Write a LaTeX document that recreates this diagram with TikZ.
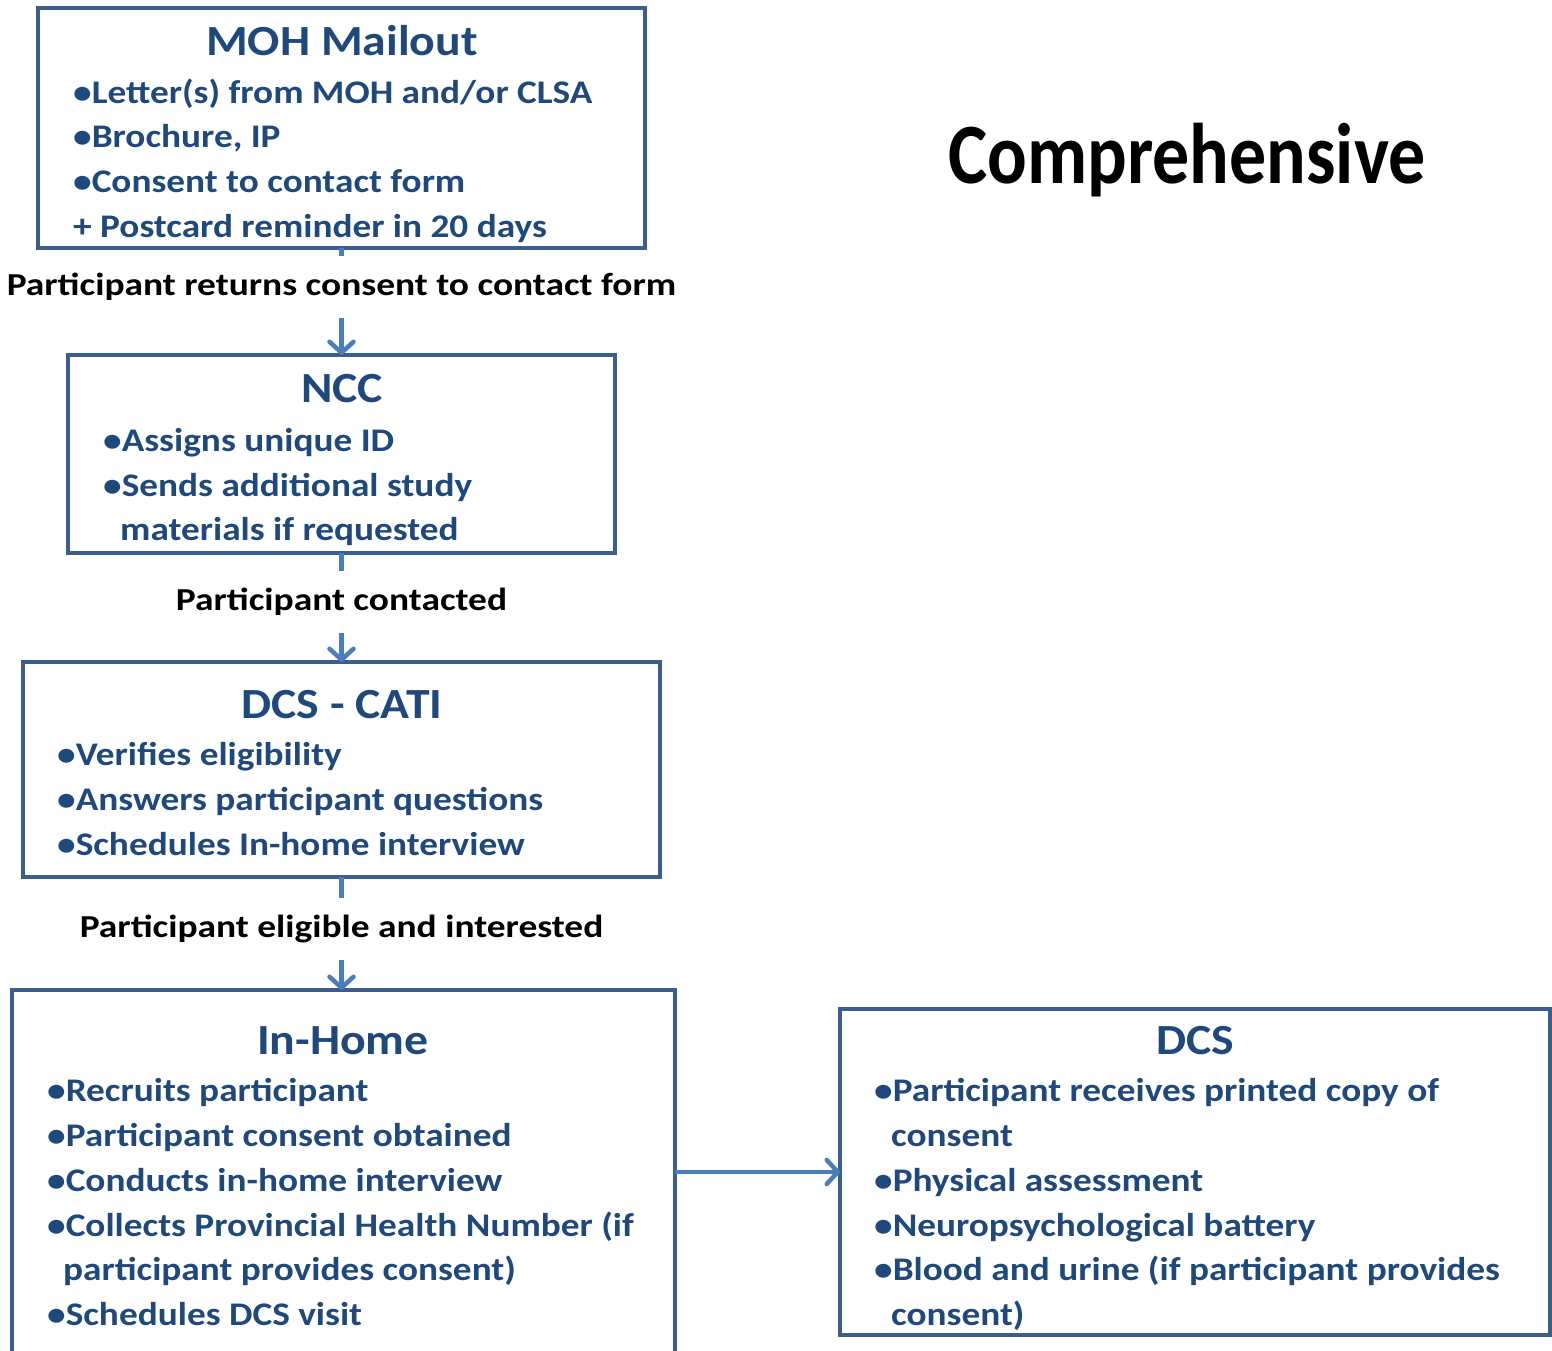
\documentclass[tikz,border=0pt]{standalone}
\usepackage{fontspec}
\setmainfont{Carlito}
\newfontfamily\itemfont[FakeStretch=1.13]{Carlito}
\newfontfamily\titlefont[FakeStretch=1.11]{Carlito}
\newfontfamily\labfont[FakeStretch=1.17]{Carlito}
\newfontfamily\compfont[FakeStretch=0.86]{Carlito}
\usetikzlibrary{arrows.meta}
\definecolor{boxblue}{HTML}{3B5E8C}
\definecolor{txtblue}{HTML}{1F497D}
\definecolor{arrblue}{HTML}{4A7EBB}
\tikzset{
  box/.style={draw=boxblue, line width=4.5pt, anchor=north west, inner sep=0pt, outer sep=0pt},
  boxtitle/.style={font=\titlefont\bfseries\fontsize{43}{50}\selectfont, text=txtblue, anchor=base, inner sep=0pt},
  item/.style={font=\itemfont\bfseries\fontsize{33}{40}\selectfont, text=txtblue, anchor=base west, inner sep=0pt},
  lab/.style={font=\labfont\bfseries\fontsize{32}{38}\selectfont, text=black, inner xsep=2pt, inner ysep=17pt},
  conn/.style={draw=arrblue, line width=4.5pt},
  arr/.style={conn, -{Straight Barb[length=11pt,width=24pt,line width=4.5pt,round]}}
}
\begin{document}
\begin{tikzpicture}[x=1pt,y=-1pt]
\clip (0,0) rectangle (1552,1350);
% boxes
\node[box, minimum width=607pt, minimum height=240pt] (moh) at (38,8) {};
\node[box, minimum width=547pt, minimum height=198pt] (ncc) at (68,355) {};
\node[box, minimum width=637pt, minimum height=215pt] (cati) at (23,662) {};
\node[box, minimum width=663pt, minimum height=364pt] (inhome) at (12,990) {};
\node[box, minimum width=710pt, minimum height=326pt] (dcs) at (840,1009) {};
% MOH
\node[boxtitle] (t1) at (342,55) {MOH Mailout};
\node[item] (m1) at (73,103) {•Letter(s) from MOH and/or CLSA};
\node[item] (m2) at (73,147) {•Brochure, IP};
\node[item] (m3) at (73,192) {•Consent to contact form};
\node[item] (m4) at (73,237) {+ Postcard reminder in 20 days};
% NCC
\node[boxtitle] (t2) at (342,402) {NCC};
\node[item] (n1) at (103,451) {•Assigns unique ID};
\node[item] (n2) at (103,496) {•Sends additional study};
\node[item] (n3) at (120,540) {materials if requested};
% DCS-CATI
\node[boxtitle] (t3) at (342,718) {DCS - CATI};
\node[item] (c1) at (57,765) {•Verifies eligibility};
\node[item] (c2) at (57,810) {•Answers participant questions};
\node[item] (c3) at (57,855) {•Schedules In-home interview};
% In-Home
\node[boxtitle] (t4) at (343,1054) {In-Home};
\node[item] (h1) at (47,1101) {•Recruits participant};
\node[item] (h2) at (47,1146) {•Participant consent obtained};
\node[item] (h3) at (47,1191) {•Conducts in-home interview};
\node[item] (h4) at (47,1236) {•Collects Provincial Health Number (if};
\node[item] (h5) at (63,1280) {participant provides consent)};
\node[item] (h6) at (47,1325) {•Schedules DCS visit};
% DCS
\node[boxtitle] (t5) at (1195,1054) {DCS};
\node[item] (d1) at (874,1101) {•Participant receives printed copy of};
\node[item] (d2) at (891,1146) {consent};
\node[item] (d3) at (874,1191) {•Physical assessment};
\node[item] (d4) at (874,1236) {•Neuropsychological battery};
\node[item] (d5) at (874,1280) {•Blood and urine (if participant provides};
\node[item] (d6) at (891,1325) {consent)};
% title
\node[font=\compfont\bfseries\fontsize{86}{96}\selectfont, anchor=base, inner sep=0pt] (comp) at (1187,183) {Comprehensive};
% labels
\node[lab] (l1) at (341.5,287) {Participant returns consent to contact form};
\node[lab] (l2) at (341.5,602) {Participant contacted};
\node[lab] (l3) at (341.5,929) {Participant eligible and interested};
% connectors
\draw[conn] (moh.south) -- (l1.north);
\draw[arr] (l1.south) -- (ncc.north);
\draw[conn] (ncc.south) -- (l2.north);
\draw[arr] (l2.south) -- (cati.north);
\draw[conn] (cati.south) -- (l3.north);
\draw[arr] (l3.south) -- (inhome.north -| l3.south);
\draw[arr] (inhome.east) -- (dcs.west);
\end{tikzpicture}
\end{document}
